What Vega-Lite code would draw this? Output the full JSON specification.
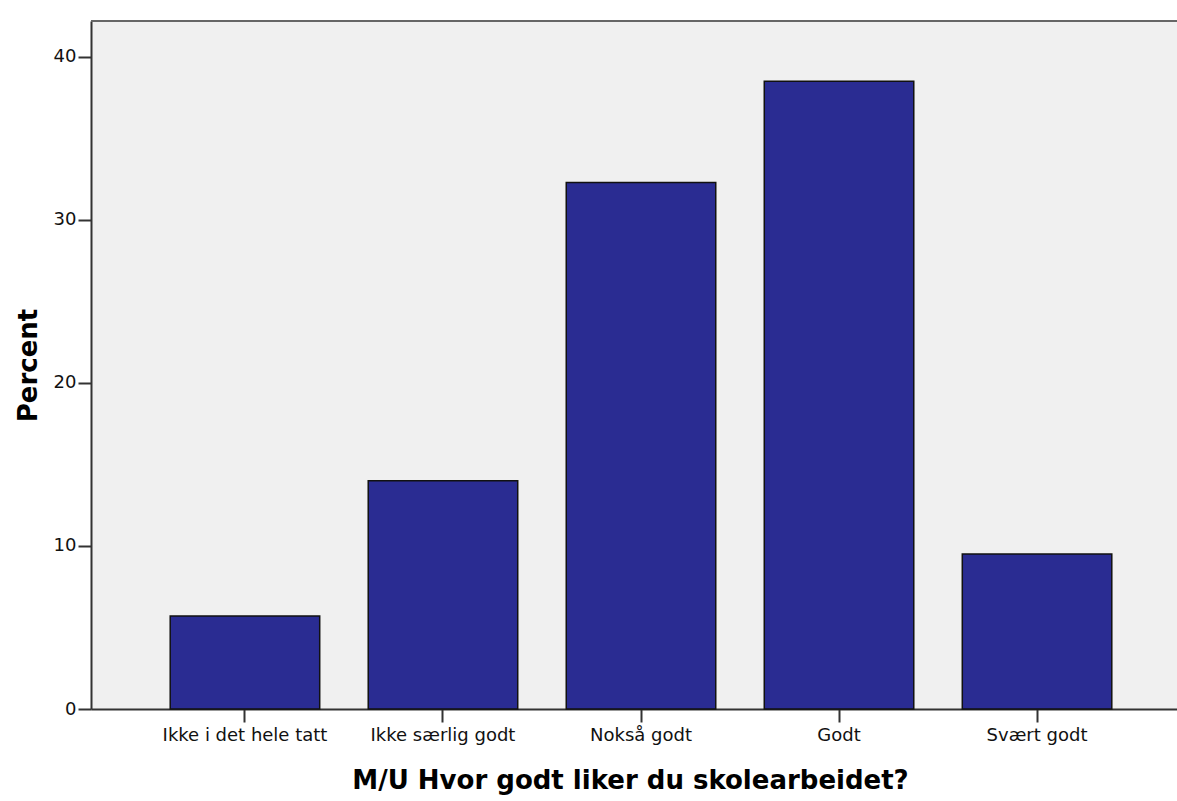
{
  "$schema": "https://vega.github.io/schema/vega-lite/v6.json",
  "autosize": {"type": "none"},
  "padding": {"left": 91, "top": 21, "right": 0, "bottom": 92},
  "width": 1100,
  "height": 688,
  "background": "#ffffff",
  "config": {
    "view": {"fill": "#f0f0f0", "stroke": null},
    "font": "DejaVu Sans"
  },
  "data": {
    "values": [
      {"category": "Ikke i det hele tatt", "percent": 5.7},
      {"category": "Ikke særlig godt", "percent": 14.0},
      {"category": "Nokså godt", "percent": 32.3},
      {"category": "Godt", "percent": 38.5},
      {"category": "Svært godt", "percent": 9.5}
    ]
  },
  "layer": [
    {
      "mark": {"type": "bar", "fill": "#2a2c92", "stroke": "#111111", "strokeWidth": 1.5},
      "encoding": {
        "x": {
          "field": "category",
          "type": "nominal",
          "sort": null,
          "scale": {"paddingInner": 0.245, "paddingOuter": 0.4},
          "axis": {
            "title": "M/U Hvor godt liker du skolearbeidet?",
            "titleFont": "DejaVu Sans",
            "titleFontSize": 26,
            "titleFontWeight": "bold",
            "titleColor": "#000000",
            "titleX": 539,
            "titleY": 71,
            "titleBaseline": "middle",
            "labelAngle": 0,
            "labelFont": "DejaVu Sans",
            "labelFontSize": 18,
            "labelColor": "#111111",
            "labelPadding": 4,
            "tickSize": 13,
            "tickWidth": 2,
            "tickColor": "#333333",
            "domainColor": "#333333",
            "domainWidth": 2,
            "grid": false
          }
        },
        "y": {
          "field": "percent",
          "type": "quantitative",
          "scale": {"domain": [0, 42.2], "nice": false, "zero": true},
          "axis": {
            "title": "Percent",
            "values": [0, 10, 20, 30, 40],
            "titleFont": "DejaVu Sans",
            "titleFontSize": 26,
            "titleFontWeight": "bold",
            "titleColor": "#000000",
            "titleX": -63,
            "titleY": 344,
            "titleAngle": -90,
            "titleAlign": "center",
            "titleBaseline": "middle",
            "labelFont": "DejaVu Sans",
            "labelFontSize": 18,
            "labelColor": "#111111",
            "labelPadding": 2,
            "tickSize": 13,
            "tickWidth": 2,
            "tickColor": "#333333",
            "domainColor": "#333333",
            "domainWidth": 2,
            "grid": false
          }
        }
      }
    },
    {
      "mark": {"type": "rule", "color": "#666666", "strokeWidth": 2},
      "encoding": {"y": {"datum": 42.2}}
    }
  ]
}
